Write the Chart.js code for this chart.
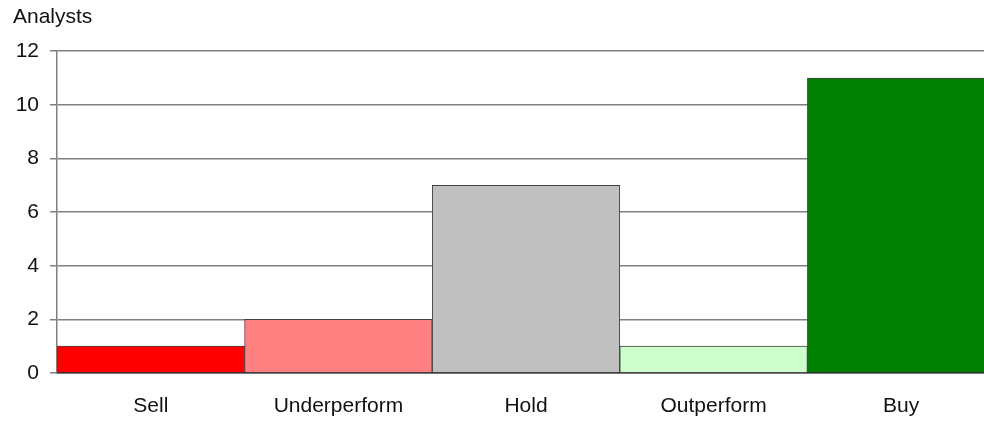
<!DOCTYPE html>
<html>
<head>
<meta charset="utf-8">
<title>Analysts</title>
<script src="https://cdn.jsdelivr.net/npm/chart.js@4/dist/chart.umd.min.js"></script>
<style>
    html, body { margin: 0; padding: 0; background: #fff; overflow: hidden; }
    #wrap { width: 995px; height: 421px; position: relative; }
</style>
</head>
<body>
<div id="wrap"><canvas id="c"></canvas></div>
<script>
// data
const categories = ['Sell', 'Underperform', 'Hold', 'Outperform', 'Buy'];
const analysts = [1, 2, 7, 1, 11];
const barColors = ['#ff0000', '#ff8080', '#c0c0c0', '#ccffcc', '#008000'];
const yMin = 0, yMax = 12, yStep = 2;

let chart = null;

function renderChart() {
    Chart.defaults.font.family = 'Arial, "Liberation Sans", sans-serif';
    Chart.defaults.font.size = 21;
    Chart.defaults.color = '#111';

    const ctx = document.getElementById('c').getContext('2d');
    if(chart) chart.destroy();
    chart = new Chart(ctx, {
        type: 'bar',
        data: {
            labels: categories,
            datasets: [{
                data: analysts,
                backgroundColor: barColors,
                borderColor: '#404040',
                borderWidth: 1,
                barPercentage: 1,
                categoryPercentage: 1
            }]
        },
        options: {
            responsive: true,
            maintainAspectRatio: false,
            animation: false,
            layout: { padding: { left: 13, right: 0, top: 0, bottom: 2 } },
            plugins: {
                legend: { display: false },
                tooltip: { enabled: false },
                title: {
                    display: true,
                    text: 'Analysts',
                    align: 'start',
                    color: '#111',
                    font: { size: 21, weight: 'normal' },
                    lineHeight: 1.2,
                    padding: { top: 5, bottom: 21 }
                }
            },
            scales: {
                x: {
                    grid: { display: false, drawTicks: false },
                    border: { display: true, color: '#303030', width: 1.5 },
                    ticks: { padding: 21, color: '#111', maxRotation: 0, autoSkip: false },
                    afterFit: s => { s.height = 46; }
                },
                y: {
                    min: yMin,
                    max: yMax,
                    ticks: { stepSize: yStep, padding: 11, color: '#111' },
                    grid: { color: '#808080', lineWidth: 1.5, tickLength: 7 },
                    border: { display: true, color: '#808080', width: 1.5 },
                    afterFit: s => { s.width = 44; }
                }
            }
        }
    });
}

window.onload = () => { renderChart(); };
</script>
</body>
</html>
